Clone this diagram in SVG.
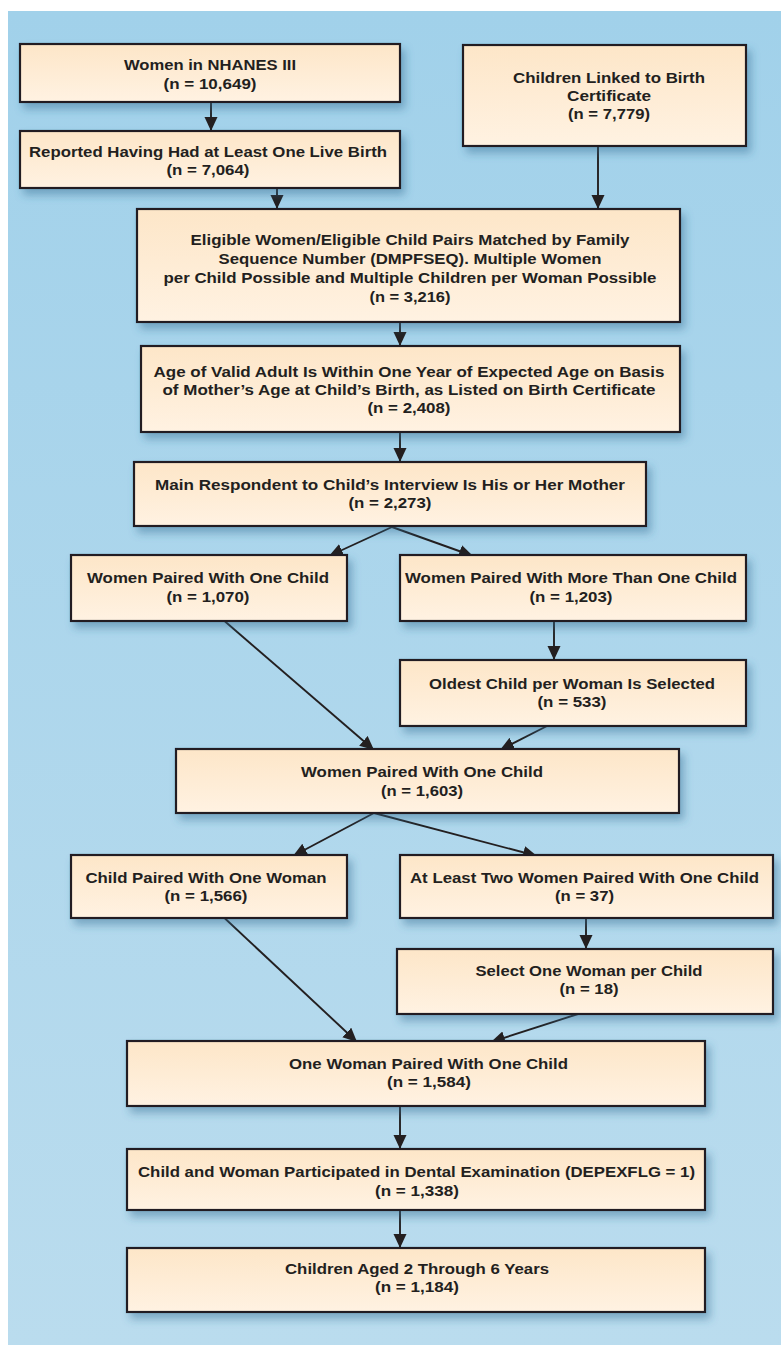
<svg xmlns="http://www.w3.org/2000/svg" width="781" height="1345" viewBox="0 0 781 1345">
<defs>
<linearGradient id="bg" x1="0" y1="0" x2="0" y2="1">
<stop offset="0" stop-color="#a1d1ea"/>
<stop offset="1" stop-color="#badcee"/>
</linearGradient>
<linearGradient id="boxfill" x1="0" y1="0" x2="0" y2="1">
<stop offset="0" stop-color="#fde6c8"/>
<stop offset="1" stop-color="#fff2e2"/>
</linearGradient>
<filter id="shadow" x="-10%" y="-20%" width="125%" height="160%">
<feGaussianBlur in="SourceAlpha" stdDeviation="4"/>
<feOffset dx="4" dy="6" result="b"/>
<feFlood flood-color="#2f6a90" flood-opacity="0.45"/>
<feComposite in2="b" operator="in"/>
<feMerge><feMergeNode/><feMergeNode in="SourceGraphic"/></feMerge>
</filter>
<marker id="arr" markerUnits="userSpaceOnUse" markerWidth="15" markerHeight="14" refX="14" refY="6.5" orient="auto">
<path d="M0,0 L14,6.5 L0,13 z" fill="#231f20"/>
</marker>
</defs>
<style>
.box{fill:url(#boxfill);stroke:#231f20;stroke-width:2.2;filter:url(#shadow)}
.t{font-family:"Liberation Sans",Arial,sans-serif;font-weight:bold;font-size:15.5px;fill:#231f20;text-anchor:middle}
.c{stroke:#231f20;stroke-width:1.9;fill:none;marker-end:url(#arr)}
</style>
<rect x="8" y="11" width="773" height="1334" fill="url(#bg)"/>
<g id="connectors">
<line class="c" x1="211" y1="102" x2="211" y2="131"/>
<line class="c" x1="277" y1="188" x2="277" y2="209"/>
<line class="c" x1="598" y1="146" x2="598" y2="209"/>
<line class="c" x1="400" y1="322" x2="400" y2="346"/>
<line class="c" x1="400" y1="432" x2="400" y2="462"/>
<line class="c" x1="392" y1="527" x2="329" y2="556"/>
<line class="c" x1="392" y1="527" x2="473" y2="556"/>
<line class="c" x1="554" y1="621" x2="554" y2="660"/>
<line class="c" x1="224.5" y1="621" x2="374" y2="750"/>
<line class="c" x1="547" y1="726" x2="500" y2="750"/>
<line class="c" x1="374" y1="813" x2="293" y2="856"/>
<line class="c" x1="374" y1="813" x2="537" y2="856"/>
<line class="c" x1="586" y1="918" x2="586" y2="949"/>
<line class="c" x1="224.5" y1="918" x2="357" y2="1042"/>
<line class="c" x1="578" y1="1014" x2="491" y2="1042"/>
<line class="c" x1="400" y1="1106" x2="400" y2="1149"/>
<line class="c" x1="400" y1="1210" x2="400" y2="1248"/>
</g>
<g id="n1">
<rect class="box" x="20" y="44" width="380" height="58"/>
<text class="t" x="210" y="70" textLength="172" lengthAdjust="spacingAndGlyphs">Women in NHANES III</text>
<text class="t" x="210" y="89" textLength="93" lengthAdjust="spacingAndGlyphs">(n = 10,649)</text>
</g>
<g id="n2">
<rect class="box" x="20" y="131" width="380" height="57"/>
<text class="t" x="208" y="157" textLength="358" lengthAdjust="spacingAndGlyphs">Reported Having Had at Least One Live Birth</text>
<text class="t" x="208" y="175" textLength="83" lengthAdjust="spacingAndGlyphs">(n = 7,064)</text>
</g>
<g id="n3">
<rect class="box" x="463" y="45" width="283" height="101"/>
<text class="t" x="609" y="83" textLength="192" lengthAdjust="spacingAndGlyphs">Children Linked to Birth</text>
<text class="t" x="609" y="101" textLength="84" lengthAdjust="spacingAndGlyphs">Certificate</text>
<text class="t" x="609" y="119" textLength="82" lengthAdjust="spacingAndGlyphs">(n = 7,779)</text>
</g>
<g id="n4">
<rect class="box" x="137" y="209" width="543" height="113"/>
<text class="t" x="410" y="245" textLength="439" lengthAdjust="spacingAndGlyphs">Eligible Women/Eligible Child Pairs Matched by Family</text>
<text class="t" x="410" y="264" textLength="383" lengthAdjust="spacingAndGlyphs">Sequence Number (DMPFSEQ). Multiple Women</text>
<text class="t" x="410" y="283" textLength="493" lengthAdjust="spacingAndGlyphs">per Child Possible and Multiple Children per Woman Possible</text>
<text class="t" x="410" y="302" textLength="81" lengthAdjust="spacingAndGlyphs">(n = 3,216)</text>
</g>
<g id="n5">
<rect class="box" x="141" y="346" width="539" height="86"/>
<text class="t" x="409" y="377" textLength="511" lengthAdjust="spacingAndGlyphs">Age of Valid Adult Is Within One Year of Expected Age on Basis</text>
<text class="t" x="409" y="395" textLength="493" lengthAdjust="spacingAndGlyphs">of Mother’s Age at Child’s Birth, as Listed on Birth Certificate</text>
<text class="t" x="409" y="413" textLength="83" lengthAdjust="spacingAndGlyphs">(n = 2,408)</text>
</g>
<g id="n6">
<rect class="box" x="134" y="462" width="512" height="64"/>
<text class="t" x="390" y="490" textLength="470" lengthAdjust="spacingAndGlyphs">Main Respondent to Child’s Interview Is His or Her Mother</text>
<text class="t" x="390" y="508" textLength="83" lengthAdjust="spacingAndGlyphs">(n = 2,273)</text>
</g>
<g id="n7">
<rect class="box" x="71" y="555" width="276" height="66"/>
<text class="t" x="208" y="583" textLength="242" lengthAdjust="spacingAndGlyphs">Women Paired With One Child</text>
<text class="t" x="208" y="602" textLength="83" lengthAdjust="spacingAndGlyphs">(n = 1,070)</text>
</g>
<g id="n8">
<rect class="box" x="400" y="555" width="346" height="66"/>
<text class="t" x="571" y="583" textLength="332" lengthAdjust="spacingAndGlyphs">Women Paired With More Than One Child</text>
<text class="t" x="571" y="602" textLength="83" lengthAdjust="spacingAndGlyphs">(n = 1,203)</text>
</g>
<g id="n9">
<rect class="box" x="400" y="660" width="346" height="66"/>
<text class="t" x="572" y="689" textLength="286" lengthAdjust="spacingAndGlyphs">Oldest Child per Woman Is Selected</text>
<text class="t" x="572" y="707" textLength="69" lengthAdjust="spacingAndGlyphs">(n = 533)</text>
</g>
<g id="n10">
<rect class="box" x="176" y="749" width="503" height="64"/>
<text class="t" x="422" y="777" textLength="242" lengthAdjust="spacingAndGlyphs">Women Paired With One Child</text>
<text class="t" x="422" y="796" textLength="82" lengthAdjust="spacingAndGlyphs">(n = 1,603)</text>
</g>
<g id="n11">
<rect class="box" x="71" y="855" width="276" height="63"/>
<text class="t" x="206" y="883" textLength="241" lengthAdjust="spacingAndGlyphs">Child Paired With One Woman</text>
<text class="t" x="206" y="901" textLength="83" lengthAdjust="spacingAndGlyphs">(n = 1,566)</text>
</g>
<g id="n12">
<rect class="box" x="400" y="855" width="373" height="63"/>
<text class="t" x="584.5" y="883" textLength="349" lengthAdjust="spacingAndGlyphs">At Least Two Women Paired With One Child</text>
<text class="t" x="584.5" y="901" textLength="59" lengthAdjust="spacingAndGlyphs">(n = 37)</text>
</g>
<g id="n13">
<rect class="box" x="397" y="949" width="376" height="65"/>
<text class="t" x="589" y="976" textLength="227" lengthAdjust="spacingAndGlyphs">Select One Woman per Child</text>
<text class="t" x="589" y="994" textLength="59" lengthAdjust="spacingAndGlyphs">(n = 18)</text>
</g>
<g id="n14">
<rect class="box" x="127" y="1041" width="578" height="65"/>
<text class="t" x="428.5" y="1069" textLength="279" lengthAdjust="spacingAndGlyphs">One Woman Paired With One Child</text>
<text class="t" x="429" y="1087" textLength="84" lengthAdjust="spacingAndGlyphs">(n = 1,584)</text>
</g>
<g id="n15">
<rect class="box" x="127" y="1149" width="578" height="61"/>
<text class="t" x="416.5" y="1177" textLength="557" lengthAdjust="spacingAndGlyphs">Child and Woman Participated in Dental Examination (DEPEXFLG = 1)</text>
<text class="t" x="417" y="1196" textLength="84" lengthAdjust="spacingAndGlyphs">(n = 1,338)</text>
</g>
<g id="n16">
<rect class="box" x="127" y="1248" width="578" height="64"/>
<text class="t" x="417" y="1274" textLength="264" lengthAdjust="spacingAndGlyphs">Children Aged 2 Through 6 Years</text>
<text class="t" x="417" y="1292" textLength="84" lengthAdjust="spacingAndGlyphs">(n = 1,184)</text>
</g>
</svg>
